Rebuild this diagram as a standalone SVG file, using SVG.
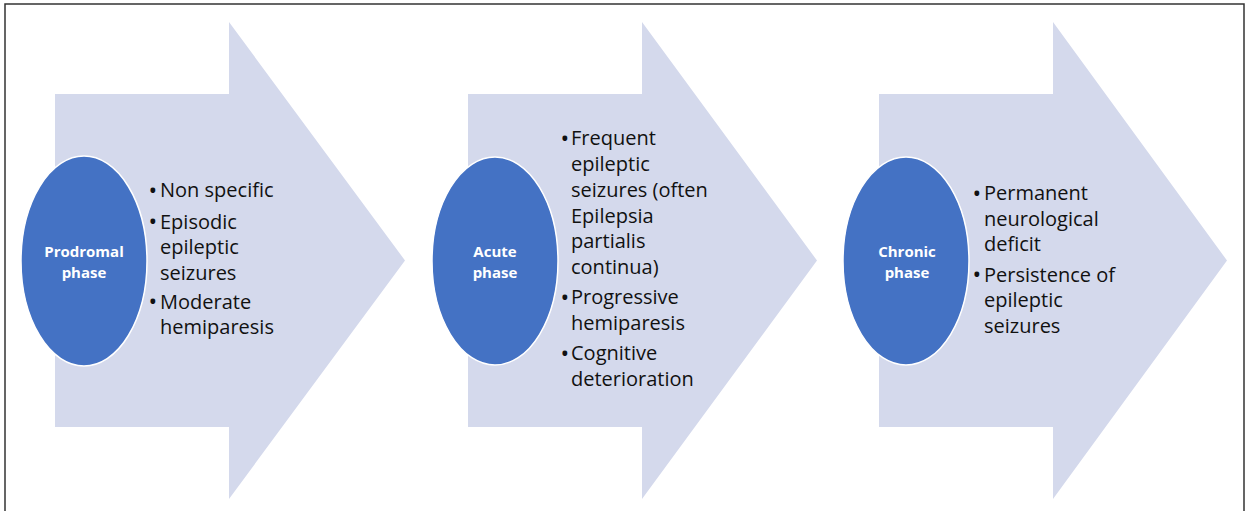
<svg xmlns="http://www.w3.org/2000/svg" width="1246" height="511" viewBox="0 0 1246 511">
<defs>
<style>
.arrow{fill:#D4D9EC;stroke:none}
.oval{fill:#4472C4;stroke:#FFFFFF;stroke-width:1.5}
.ph{font-family:"Open Sans","Liberation Sans",sans-serif;font-weight:bold;font-size:15px;fill:#FFFFFF;text-anchor:middle}
.bl{font-family:"Open Sans","Liberation Sans",sans-serif;font-size:20px;fill:#111111}
.bu{font-size:23px}
.frame{fill:none;stroke:#333333;stroke-width:1.5}
</style>
</defs>
<rect width="1246" height="511" fill="#FFFFFF"/>
<path class="frame" d="M5,511 V4 H1244 V511"/>
<g id="connectors"></g>
<g id="prodromal">
<path class="arrow" d="M55,94 H229 V22 L405,260.5 L229,499 V427 H55 Z"/>
<ellipse class="oval" cx="84" cy="261" rx="63" ry="105"/>
<text class="ph"><tspan x="84" y="256.5">Prodromal</tspan><tspan x="84" y="277.5">phase</tspan></text>
<text class="bl"><tspan class="bu" x="148.5" y="198.5">•</tspan><tspan x="160" y="197">Non specific</tspan></text>
<text class="bl"><tspan class="bu" x="148.5" y="230">•</tspan><tspan x="160" y="228.5">Episodic</tspan><tspan x="160" y="254">epileptic</tspan><tspan x="160" y="279.5">seizures</tspan></text>
<text class="bl"><tspan class="bu" x="148.5" y="310">•</tspan><tspan x="160" y="308.5">Moderate</tspan><tspan x="160" y="334">hemiparesis</tspan></text>
</g>
<g id="acute">
<path class="arrow" d="M468,94 H642 V22 L817,260.5 L642,499 V427 H468 Z"/>
<ellipse class="oval" cx="495" cy="261" rx="63" ry="104"/>
<text class="ph"><tspan x="495" y="256.5">Acute</tspan><tspan x="495" y="277.5">phase</tspan></text>
<text class="bl"><tspan class="bu" x="560.5" y="146.5">•</tspan><tspan x="571" y="145">Frequent</tspan><tspan x="571" y="171">epileptic</tspan><tspan x="571" y="197">seizures (often</tspan><tspan x="571" y="222.5">Epilepsia</tspan><tspan x="571" y="248">partialis</tspan><tspan x="571" y="273.5">continua)</tspan></text>
<text class="bl"><tspan class="bu" x="560.5" y="305.5">•</tspan><tspan x="571" y="304">Progressive</tspan><tspan x="571" y="329.5">hemiparesis</tspan></text>
<text class="bl"><tspan class="bu" x="560.5" y="361.5">•</tspan><tspan x="571" y="360">Cognitive</tspan><tspan x="571" y="386">deterioration</tspan></text>
</g>
<g id="chronic">
<path class="arrow" d="M879,94 H1053 V22 L1227,260.5 L1053,499 V427 H879 Z"/>
<ellipse class="oval" cx="906" cy="261" rx="63" ry="104"/>
<text class="ph"><tspan x="907" y="256.5">Chronic</tspan><tspan x="907" y="277.5">phase</tspan></text>
<text class="bl"><tspan class="bu" x="972.5" y="201.5">•</tspan><tspan x="984" y="200">Permanent</tspan><tspan x="984" y="225.5">neurological</tspan><tspan x="984" y="251">deficit</tspan></text>
<text class="bl"><tspan class="bu" x="972.5" y="283">•</tspan><tspan x="984" y="281.5">Persistence of</tspan><tspan x="984" y="307">epileptic</tspan><tspan x="984" y="332.5">seizures</tspan></text>
</g>
</svg>
